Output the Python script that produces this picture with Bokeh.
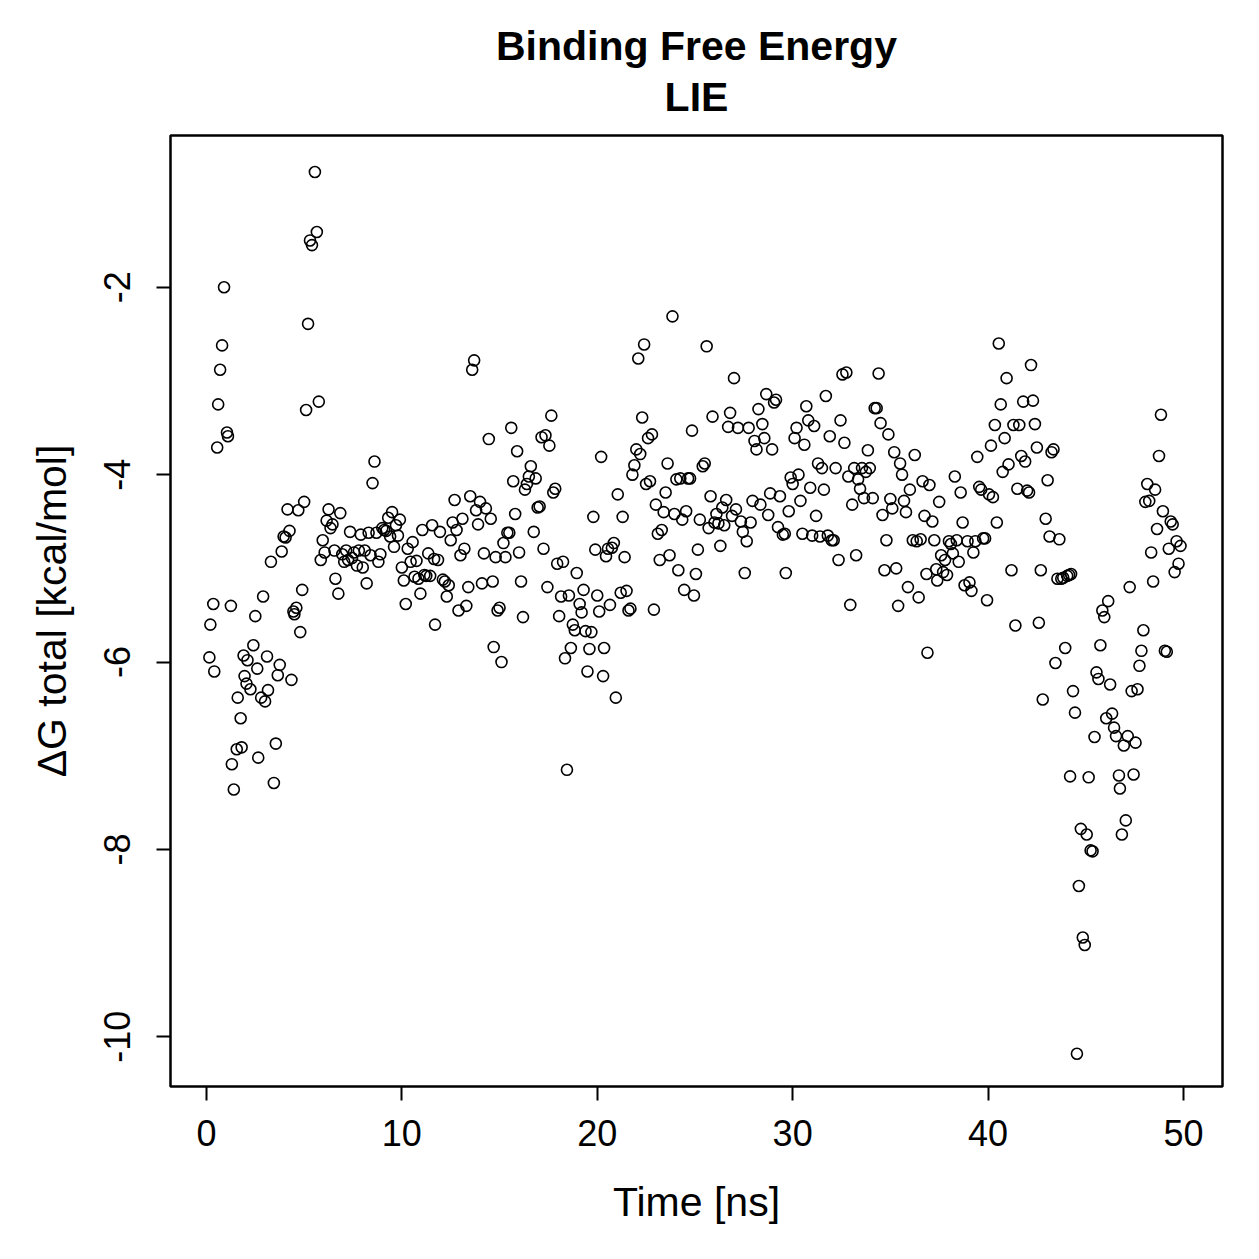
from bokeh.plotting import figure
from bokeh.models import LinearAxis, FixedTicker
from bokeh.embed import file_html
from bokeh.resources import INLINE

# LIE binding free energy along the trajectory
time_ns = [
    0.15, 0.2, 0.35, 0.4, 0.55, 0.6, 0.7, 0.8, 0.9, 1.05, 1.1, 1.25, 1.3, 1.4, 1.55, 1.6, 1.75, 1.8, 1.9, 1.95,
    2.05, 2.1, 2.25, 2.4, 2.5, 2.6, 2.65, 2.8, 2.9, 3.0, 3.1, 3.15, 3.3, 3.45, 3.55, 3.65, 3.75, 3.85, 3.95, 4.05,
    4.15, 4.25, 4.35, 4.45, 4.5, 4.6, 4.7, 4.8, 4.9, 5.0, 5.1, 5.2, 5.3, 5.4, 5.55, 5.65, 5.75, 5.85, 5.95, 6.05,
    6.15, 6.25, 6.35, 6.45, 6.55, 6.6, 6.75, 6.85, 6.95, 7.05, 7.15, 7.25, 7.35, 7.45, 7.55, 7.7, 7.8, 7.9, 8.0, 8.1,
    8.2, 8.3, 8.4, 8.5, 8.6, 8.7, 8.8, 8.9, 9.0, 9.1, 9.2, 9.3, 9.4, 9.5, 9.6, 9.7, 9.8, 9.9, 10.0, 10.1,
    10.2, 10.3, 10.45, 10.55, 10.65, 10.75, 10.85, 10.95, 11.05, 11.15, 11.25, 11.35, 11.45, 11.55, 11.65, 11.7, 11.85, 11.95, 12.1, 12.2,
    12.3, 12.4, 12.5, 12.6, 12.7, 12.8, 12.9, 13.0, 13.1, 13.2, 13.3, 13.4, 13.5, 13.6, 13.7, 13.8, 13.9, 14.0, 14.1, 14.2,
    14.3, 14.45, 14.55, 14.65, 14.7, 14.8, 14.9, 15.0, 15.1, 15.2, 15.3, 15.4, 15.5, 15.6, 15.7, 15.8, 15.9, 16.0, 16.1, 16.2,
    16.3, 16.4, 16.5, 16.6, 16.75, 16.85, 16.95, 17.05, 17.15, 17.25, 17.35, 17.45, 17.55, 17.65, 17.75, 17.85, 17.95, 18.05, 18.15, 18.25,
    18.35, 18.45, 18.55, 18.65, 18.75, 18.85, 18.95, 19.1, 19.2, 19.3, 19.4, 19.5, 19.6, 19.7, 19.8, 19.9, 20.0, 20.1, 20.2, 20.3,
    20.35, 20.45, 20.55, 20.65, 20.75, 20.85, 20.95, 21.05, 21.2, 21.3, 21.4, 21.5, 21.6, 21.7, 21.8, 21.9, 22.0, 22.1, 22.2, 22.3,
    22.4, 22.5, 22.6, 22.7, 22.8, 22.9, 23.0, 23.1, 23.2, 23.3, 23.4, 23.5, 23.6, 23.7, 23.85, 23.95, 24.05, 24.15, 24.25, 24.35,
    24.45, 24.55, 24.65, 24.75, 24.85, 24.95, 25.05, 25.15, 25.25, 25.4, 25.5, 25.6, 25.7, 25.8, 25.9, 26.0, 26.1, 26.2, 26.3, 26.4,
    26.5, 26.6, 26.7, 26.8, 26.9, 27.0, 27.1, 27.2, 27.35, 27.45, 27.55, 27.65, 27.75, 27.85, 27.95, 28.05, 28.15, 28.25, 28.35, 28.45,
    28.55, 28.65, 28.75, 28.85, 28.95, 29.05, 29.15, 29.25, 29.35, 29.5, 29.6, 29.65, 29.8, 29.9, 30.0, 30.1, 30.2, 30.3, 30.4, 30.5,
    30.6, 30.7, 30.8, 30.9, 31.0, 31.1, 31.2, 31.3, 31.4, 31.5, 31.6, 31.7, 31.8, 31.9, 32.0, 32.1, 32.2, 32.35, 32.45, 32.55,
    32.65, 32.75, 32.85, 32.95, 33.05, 33.15, 33.25, 33.35, 33.45, 33.55, 33.65, 33.75, 33.85, 33.95, 34.1, 34.2, 34.3, 34.4, 34.5, 34.6,
    34.7, 34.8, 34.9, 35.0, 35.1, 35.2, 35.3, 35.4, 35.5, 35.6, 35.7, 35.8, 35.9, 36.0, 36.15, 36.25, 36.35, 36.45, 36.55, 36.65,
    36.75, 36.85, 36.9, 37.0, 37.15, 37.25, 37.35, 37.4, 37.5, 37.6, 37.7, 37.8, 37.9, 38.0, 38.1, 38.2, 38.3, 38.4, 38.5, 38.6,
    38.7, 38.8, 38.95, 39.05, 39.15, 39.25, 39.35, 39.45, 39.55, 39.65, 39.75, 39.85, 39.95, 40.05, 40.15, 40.25, 40.35, 40.45, 40.55, 40.65,
    40.75, 40.85, 40.95, 41.05, 41.2, 41.3, 41.4, 41.5, 41.6, 41.7, 41.8, 41.9, 42.0, 42.1, 42.2, 42.3, 42.4, 42.5, 42.6, 42.7,
    42.8, 42.95, 43.05, 43.15, 43.25, 43.35, 43.45, 43.55, 43.65, 43.75, 43.85, 43.95, 44.05, 44.15, 44.2, 44.25, 44.35, 44.45, 44.55, 44.65,
    44.75, 44.85, 44.95, 45.05, 45.15, 45.25, 45.35, 45.45, 45.55, 45.65, 45.75, 45.85, 45.95, 46.05, 46.15, 46.25, 46.35, 46.45, 46.55, 46.7,
    46.75, 46.85, 46.95, 47.05, 47.15, 47.25, 47.35, 47.45, 47.55, 47.65, 47.75, 47.85, 47.95, 48.05, 48.15, 48.25, 48.35, 48.45, 48.55, 48.65,
    48.75, 48.85, 48.95, 49.05, 49.15, 49.25, 49.35, 49.45, 49.55, 49.65, 49.75, 49.85,
]

dg_total = [
    -5.95, -5.6, -5.38, -6.1, -3.71, -3.25, -2.88, -2.62, -2.0, -3.55, -3.59, -5.4, -7.09, -7.36, -6.93, -6.38, -6.6, -6.91, -5.93, -6.15,
    -6.23, -5.98, -6.29, -5.82, -5.51, -6.07, -7.02, -6.38, -5.3, -6.42, -5.94, -6.3, -4.93, -7.29, -6.87, -6.14, -6.03, -4.82, -4.66, -4.67,
    -4.37, -4.6, -6.19, -5.46, -5.49, -5.42, -4.38, -5.68, -5.23, -4.29, -3.31, -2.39, -1.5, -1.55, -0.77, -1.41, -3.22, -4.91, -4.7, -4.83,
    -4.49, -4.37, -4.57, -4.53, -4.81, -5.11, -5.27, -4.41, -4.85, -4.93, -4.81, -4.91, -4.61, -4.89, -4.83, -4.97, -4.81, -4.64, -4.99, -4.81,
    -5.16, -4.62, -4.86, -4.09, -3.86, -4.62, -4.93, -4.85, -4.57, -4.59, -4.6, -4.46, -4.66, -4.4, -4.77, -4.54, -4.65, -4.48, -4.99, -5.13,
    -5.38, -4.79, -4.93, -4.72, -5.09, -4.92, -5.11, -5.27, -4.59, -5.07, -5.08, -4.84, -5.08, -4.54, -4.9, -5.6, -4.91, -4.61, -5.12, -5.14,
    -5.3, -5.18, -4.7, -4.51, -4.27, -4.59, -5.45, -4.86, -4.47, -4.79, -5.4, -5.2, -4.23, -2.88, -2.78, -4.38, -4.53, -4.29, -5.16, -4.84,
    -4.36, -3.62, -4.47, -5.14, -5.84, -4.88, -5.45, -5.42, -6.0, -4.73, -4.88, -4.62, -4.62, -3.5, -4.07, -4.42, -3.75, -4.83, -5.14, -5.52,
    -4.16, -4.1, -4.02, -3.91, -4.61, -4.04, -4.35, -4.34, -3.6, -4.79, -3.58, -5.2, -3.69, -3.37, -4.19, -4.15, -4.95, -5.51, -5.3, -4.93,
    -5.96, -7.15, -5.29, -5.85, -5.6, -5.66, -5.05, -5.38, -5.47, -5.23, -5.67, -6.1, -5.86, -5.68, -4.45, -4.8, -5.29, -5.46, -3.81, -6.15,
    -5.85, -4.87, -4.79, -5.39, -4.78, -4.73, -6.38, -4.21, -5.26, -4.45, -4.88, -5.24, -5.45, -5.43, -4.0, -3.9, -3.73, -2.76, -3.78, -3.39,
    -2.61, -4.1, -3.61, -4.07, -3.57, -5.44, -4.32, -4.63, -4.91, -4.59, -4.4, -4.19, -3.88, -4.86, -2.31, -4.42, -4.05, -5.02, -4.04, -4.48,
    -5.23, -4.39, -4.04, -4.04, -3.53, -5.29, -5.06, -4.8, -4.48, -3.91, -3.88, -2.63, -4.57, -4.23, -3.38, -4.51, -4.42, -4.52, -4.76, -4.35,
    -4.54, -4.27, -3.49, -3.34, -4.44, -2.97, -4.37, -3.5, -4.5, -4.61, -5.05, -4.71, -3.5, -4.51, -4.28, -3.64, -3.73, -3.3, -4.32, -3.46,
    -3.61, -3.14, -4.43, -4.2, -3.73, -3.23, -3.2, -4.56, -4.23, -4.64, -4.63, -5.05, -4.39, -4.03, -4.1, -3.61, -3.5, -4.0, -4.28, -4.63,
    -3.68, -3.27, -3.42, -4.14, -4.65, -3.48, -4.44, -3.88, -4.66, -3.93, -4.16, -3.16, -4.65, -3.59, -4.7, -4.7, -3.93, -4.91, -3.42, -2.93,
    -3.66, -2.91, -4.02, -5.39, -4.32, -3.93, -4.86, -4.05, -4.15, -3.93, -4.25, -3.97, -3.74, -3.93, -4.25, -3.29, -3.29, -2.92, -3.45, -4.43,
    -5.02, -4.7, -3.57, -4.26, -4.36, -3.76, -5.0, -5.4, -3.88, -4.0, -4.28, -4.4, -5.2, -4.16, -4.7, -3.79, -4.71, -5.31, -4.69, -4.07,
    -4.44, -5.06, -5.9, -4.11, -4.5, -4.7, -5.01, -5.13, -4.29, -4.86, -5.04, -4.91, -5.07, -4.71, -4.74, -4.84, -4.02, -4.7, -4.93, -4.19,
    -4.51, -5.18, -4.71, -5.15, -5.24, -4.83, -4.71, -3.81, -4.13, -4.16, -4.68, -4.68, -5.34, -4.21, -3.69, -4.24, -3.47, -4.51, -2.6, -3.25,
    -3.97, -3.61, -2.97, -3.89, -5.02, -3.47, -5.61, -4.15, -3.47, -3.8, -3.22, -3.86, -4.17, -4.19, -2.83, -3.21, -3.46, -3.71, -5.58, -5.02,
    -6.4, -4.47, -4.06, -4.66, -3.76, -3.73, -6.01, -5.11, -4.69, -5.11, -5.1, -5.85, -5.08, -5.07, -7.22, -5.06, -6.31, -6.54, -10.18, -8.39,
    -7.78, -8.94, -9.02, -7.84, -7.23, -8.01, -8.02, -6.8, -6.11, -6.18, -5.82, -5.45, -5.52, -6.6, -5.35, -6.24, -6.55, -6.7, -6.79, -7.21,
    -7.35, -7.84, -6.89, -7.69, -6.79, -5.2, -6.31, -7.2, -6.86, -6.29, -6.04, -5.88, -5.66, -4.29, -4.1, -4.28, -4.83, -5.14, -4.16, -4.58,
    -3.8, -3.36, -4.39, -5.88, -5.89, -4.79, -4.5, -4.53, -5.04, -4.71, -4.95, -4.76,
]

x_ticks = [0, 10, 20, 30, 40, 50]
y_ticks = [-10, -8, -6, -4, -2]
y_tick_labels = {-10: "-10", -8: "-8", -6: "-6", -4: "-4", -2: "-2"}

FONT = "Liberation Sans"

p = figure(
    width=1259, height=1259,
    x_range=(-1.84, 52.0), y_range=(-10.53, -0.38),
    output_backend="svg", toolbar_location=None,
    min_border_left=170, min_border_right=37, min_border_top=135, min_border_bottom=173,
    background_fill_color="white", border_fill_color="white",
)

xa = p.below[0]
ya = p.left[0]

p.scatter(time_ns, dg_total, marker="circle", size=11, fill_color=None,
          line_color="black", line_width=1.6)

p.xgrid.visible = False
p.ygrid.visible = False
p.outline_line_color = "black"
p.outline_line_width = 2.5

for ax in (xa, ya):
    ax.axis_line_color = None
    ax.major_tick_line_color = "black"
    ax.major_tick_line_width = 2
    ax.major_tick_in = 0
    ax.major_tick_out = 14
    ax.minor_tick_line_color = None
    ax.major_label_text_font = FONT
    ax.major_label_text_font_size = "36px"
    ax.major_label_text_color = "black"
    ax.axis_label_text_font = FONT
    ax.axis_label_text_font_size = "41px"
    ax.axis_label_text_font_style = "normal"
    ax.axis_label_text_color = "black"

xa.ticker = FixedTicker(ticks=x_ticks)
ya.ticker = FixedTicker(ticks=y_ticks)
ya.major_label_overrides = y_tick_labels
xa.axis_label = "Time [ns]"
ya.axis_label = "ΔG total [kcal/mol]"
xa.major_label_standoff = 19
ya.major_label_standoff = 26
ya.major_label_orientation = "vertical"
xa.axis_label_standoff = 30
ya.axis_label_standoff = 27

# two-line heading built from bare axes stacked above the frame
for line, gap in (("LIE", 16), ("Binding Free Energy", 2)):
    head = LinearAxis(ticker=FixedTicker(ticks=[]), axis_label=line,
                      axis_line_color=None, major_tick_line_color=None,
                      minor_tick_line_color=None, major_tick_in=0, major_tick_out=0,
                      major_label_standoff=0, axis_label_standoff=gap,
                      axis_label_text_font=FONT, axis_label_text_font_size="41px",
                      axis_label_text_font_style="bold", axis_label_text_color="black")
    p.add_layout(head, "above")

open("out.html", "w").write(file_html(p, INLINE))
